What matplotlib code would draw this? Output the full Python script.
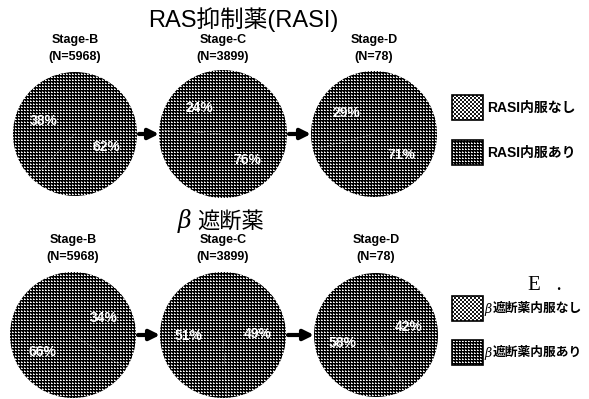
import numpy as np
import matplotlib
matplotlib.use("Agg")
from matplotlib import pyplot as plt
from matplotlib.patches import Rectangle

# Data
stages = ["Stage-B", "Stage-C", "Stage-D"]
n_counts = [5968, 3899, 78]
rasi_without = [38, 24, 29]
rasi_with = [62, 76, 71]
beta_without = [66, 51, 58]
beta_with = [34, 49, 42]
rasi_title = "RAS抑制薬(RASI)"
beta_title = "遮断薬"
rasi_legend = ["RASI内服なし", "RASI内服あり"]
beta_legend = ["遮断薬内服なし", "遮断薬内服あり"]

W, H = 589, 399
SANS = ["Liberation Sans", "Noto Sans CJK JP", "DejaVu Sans"]
CJK = ["Noto Sans CJK JP", "DejaVu Sans"]

fig = plt.figure(figsize=(W / 100, H / 100), dpi=100)
ax = fig.add_axes([0, 0, 1, 1])


def Y(y):
    # pixel rows counted from the top
    return H - y


# halftone textures
yy, xx = np.mgrid[0:H, 0:W]
dark = np.zeros((H, W))
dark[(xx % 3 == 0) & (yy % 3 == 0)] = 1.0
dark[(xx % 3 == 1) & (yy % 3 == 0)] = 0.75
dark[(xx % 3 == 0) & (yy % 3 == 1)] = 0.5
light = np.where((xx // 2 + yy // 2) % 2 == 0, 1.0, 0.1)


def fill_texture(patch, tex):
    im = ax.imshow(tex, extent=(0, W, 0, H), origin="lower", cmap="gray",
                   vmin=0, vmax=1, interpolation="nearest", zorder=1)
    im.set_clip_path(patch)


def draw_row(without, with_, cx, cy, radii, label_y):
    for i in range(len(stages)):
        wedges, _, autotexts = ax.pie(
            [without[i], with_[i]], center=(cx[i], Y(cy)), radius=radii[i],
            startangle=90, counterclock=True, autopct="%.0f%%",
            pctdistance=0.55, frame=True,
            wedgeprops=dict(facecolor="none", edgecolor="none", linewidth=0),
            textprops=dict(color="white", fontsize=10, fontweight="bold",
                           family=SANS))
        for w in wedges:
            fill_texture(w, dark)
        for t in autotexts:
            t.set_zorder(5)
        ax.text(cx[i], Y(label_y), stages[i], ha="center", va="center",
                fontsize=9, fontweight="bold", family=SANS)
        ax.text(cx[i], Y(label_y + 17), "(N=%d)" % n_counts[i], ha="center",
                va="center", fontsize=9, fontweight="bold", family=SANS)
        if i < len(stages) - 1:
            x0 = cx[i] + radii[i] + 2
            x1 = cx[i + 1] - radii[i + 1]
            ax.annotate("", xy=(x1, Y(cy)), xytext=(x0, Y(cy)),
                        arrowprops=dict(arrowstyle="-|>", color="black",
                                        lw=3, mutation_scale=15,
                                        shrinkA=0, shrinkB=0))


def draw_legend(x, ys, labels, beta=False):
    for y, lab, tex in zip(ys, labels, [light, dark]):
        r = Rectangle((x, Y(y + 25)), 31, 25, facecolor="none",
                      edgecolor="black", linewidth=1.2, zorder=4)
        ax.add_patch(r)
        fill_texture(r, tex)
        tx = x + 35
        size = 10
        if beta:
            ax.text(x + 32, Y(y + 13), "β", ha="left", va="center",
                    fontsize=9, family="DejaVu Serif", style="italic")
            tx = x + 41
            size = 9.2
        ax.text(tx, Y(y + 13), lab, ha="left", va="center", fontsize=size,
                fontweight="bold", family=SANS)


# RAS inhibitors row
ax.text(243, Y(20), rasi_title, ha="center", va="center", fontsize=17,
        family=SANS)
draw_row(rasi_without, rasi_with, [75, 223, 374], 134, [62, 64, 63], 40)
draw_legend(452, [95, 140], rasi_legend)

# beta blockers row
ax.text(185, Y(221), "β", ha="center", va="center", fontsize=17,
        family="DejaVu Serif", style="italic")
ax.text(197, Y(221), beta_title, ha="left", va="center", fontsize=16,
        family=CJK)
draw_row(beta_without, beta_with, [73, 223, 376], 335, [63, 63, 62], 240)
draw_legend(452, [296, 340], beta_legend, beta=True)

ax.text(528, Y(285), "E   .", ha="left", va="center", fontsize=15,
        family="Liberation Serif")

ax.set_xlim(0, W)
ax.set_ylim(0, H)
ax.set_aspect("equal")
ax.axis("off")
fig.savefig("out.png", dpi=100, facecolor="white")
